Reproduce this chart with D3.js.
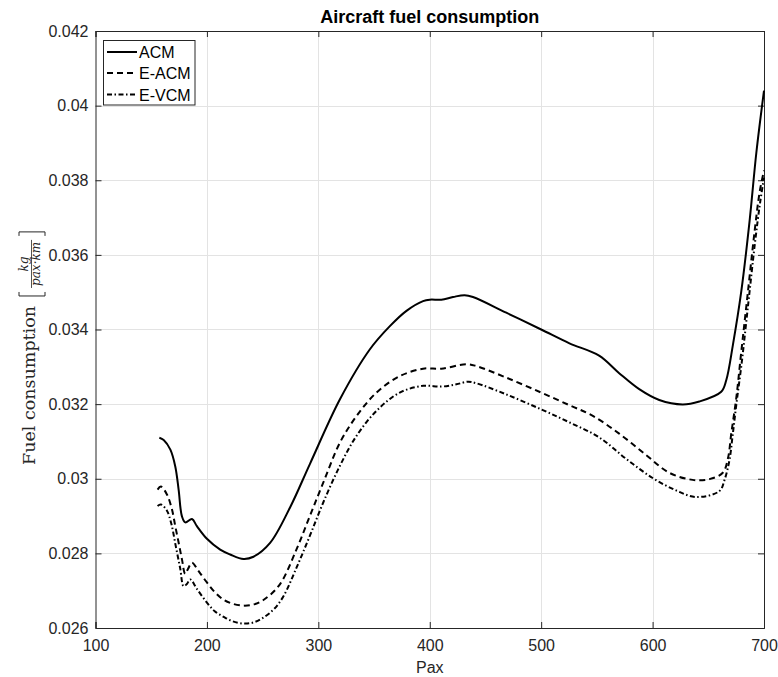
<!DOCTYPE html>
<html>
<head>
<meta charset="utf-8">
<script src="https://cdn.jsdelivr.net/npm/d3@7"></script>
<style>
  html, body { margin: 0; padding: 0; background: #fff; }
  svg { display: block; }
</style>
</head>
<body>
<svg id="chart" width="778" height="677"></svg>
<script>
// ---------------- data ----------------
const xTicks = [100, 200, 300, 400, 500, 600, 700];
const yTicks = [0.026, 0.028, 0.03, 0.032, 0.034, 0.036, 0.038, 0.04, 0.042];
const seriesNames = ["ACM", "E-ACM", "E-VCM"];

const acmPax = [157.3, 161.2, 167.2, 171.6, 174.6, 177.6, 180.6, 186.6, 191, 200, 211.9, 220.9, 232.8, 241.8, 256.7, 274.6, 292.5, 319.4, 346.3, 364.2, 379.1, 394, 400, 410.4, 420.9, 431.3, 438.8, 468.7, 500, 525.4, 552, 570, 588, 606, 627, 642, 661.6, 666.1, 672.1, 679.6, 687.1, 693.1, 700];
const acmFuel = [0.03110, 0.03104, 0.03078, 0.03033, 0.02971, 0.02899, 0.02883, 0.02892, 0.02873, 0.02839, 0.02810, 0.02797, 0.02785, 0.02791, 0.02828, 0.02923, 0.03040, 0.03213, 0.03347, 0.03409, 0.03450, 0.03476, 0.03480, 0.03480, 0.03487, 0.03492, 0.03487, 0.03445, 0.03400, 0.03363, 0.03330, 0.03283, 0.03240, 0.03211, 0.03199, 0.03207, 0.03233, 0.03264, 0.03359, 0.03502, 0.03692, 0.03873, 0.04040];

const eacmPax = [155.7, 158.7, 164.1, 168.6, 171.6, 174.6, 177.6, 180.5, 183, 186.6, 192.4, 200, 207.4, 214.9, 223, 232.8, 242, 250.7, 265, 280.6, 292.5, 304.5, 319.4, 334.3, 352.2, 373.1, 394, 410.4, 432.8, 441.8, 468.7, 500, 525.4, 546, 570, 594, 615, 636, 651, 663, 667.6, 670.6, 675.1, 679.6, 685.6, 691.6, 696.1, 700];
const eacmFuel = [0.02971, 0.02979, 0.02958, 0.02918, 0.02873, 0.02829, 0.02784, 0.02745, 0.02758, 0.02775, 0.02753, 0.02722, 0.02695, 0.02676, 0.02665, 0.02660, 0.02663, 0.02675, 0.02715, 0.02812, 0.02901, 0.02990, 0.03097, 0.03168, 0.03231, 0.03275, 0.03295, 0.03295, 0.03307, 0.03302, 0.03271, 0.03231, 0.03197, 0.03169, 0.03121, 0.03064, 0.03016, 0.02997, 0.02999, 0.03016, 0.03054, 0.03121, 0.03216, 0.03340, 0.03502, 0.03664, 0.03769, 0.03826];

const evcmPax = [155.7, 158.7, 164, 168, 172, 176, 179.1, 182, 185.1, 191, 200, 207, 215, 223, 232.8, 242, 250.7, 260, 268.7, 280.6, 292.5, 304.5, 319.4, 334.3, 352.2, 373.1, 394, 410.4, 423.9, 434.3, 441.8, 468.7, 500, 525.4, 552, 576, 600, 621, 639, 660, 664.6, 669, 672, 675.5, 680, 686, 692, 696.5, 700];
const evcmFuel = [0.02927, 0.02931, 0.02915, 0.02880, 0.02820, 0.02760, 0.02712, 0.02718, 0.02730, 0.02705, 0.02668, 0.02645, 0.02630, 0.02618, 0.02612, 0.02615, 0.02628, 0.02650, 0.02685, 0.02763, 0.02848, 0.02937, 0.03035, 0.03115, 0.03182, 0.03231, 0.03249, 0.03247, 0.03253, 0.03260, 0.03256, 0.03226, 0.03186, 0.03151, 0.03111, 0.03054, 0.03002, 0.02969, 0.02951, 0.02967, 0.02997, 0.03050, 0.03120, 0.03207, 0.03311, 0.03473, 0.03635, 0.03740, 0.03807];

// ---------------- layout ----------------
const svg = d3.select("#chart");
const pLeft = 95.5, pRight = 764, pTop = 31, pBottom = 628;
const axisColor = "#262626";
const gridColor = "#e3e3e3";
const sans = "'Liberation Sans', Arial, Helvetica, sans-serif";
const serif = "'DejaVu Serif', 'Liberation Serif', serif";

const x = d3.scaleLinear().domain([100, 700]).range([pLeft, pRight]);
const y = d3.scaleLinear().domain([0.026, 0.042]).range([pBottom, pTop]);

// grid
const grid = svg.append("g");
grid.selectAll(".gx").data(xTicks.slice(1, -1)).join("line")
  .attr("x1", d => Math.round(x(d)) + 0.5).attr("x2", d => Math.round(x(d)) + 0.5)
  .attr("y1", pTop).attr("y2", pBottom)
  .attr("stroke", gridColor).attr("stroke-width", 1);
grid.selectAll(".gy").data(yTicks.slice(1, -1)).join("line")
  .attr("x1", pLeft).attr("x2", pRight)
  .attr("y1", d => Math.round(y(d)) + 0.5).attr("y2", d => Math.round(y(d)) + 0.5)
  .attr("stroke", gridColor).attr("stroke-width", 1);

// axes (box with inward ticks)
const tickLen = 6;
const fmtY = d => String(+d.toFixed(3));
const axB = d3.axisBottom(x).tickValues(xTicks).tickSize(-tickLen).tickPadding(12).tickFormat(d3.format("d"));
const axT = d3.axisTop(x).tickValues(xTicks).tickSize(-tickLen).tickFormat("");
const axL = d3.axisLeft(y).tickValues(yTicks).tickSize(-tickLen).tickPadding(7).tickFormat(fmtY);
const axR = d3.axisRight(y).tickValues(yTicks).tickSize(-tickLen).tickFormat("");

function styleAxis(g) {
  g.select(".domain").attr("stroke", axisColor).attr("stroke-width", 1);
  g.selectAll(".tick line").attr("stroke", axisColor).attr("stroke-width", 1);
  g.selectAll(".tick text").attr("fill", axisColor).attr("font-family", sans).attr("font-size", 16);
}
svg.append("g").attr("transform", `translate(0,${pBottom})`).call(axB).call(styleAxis);
svg.append("g").attr("transform", `translate(0,${pTop})`).call(axT).call(styleAxis);
svg.append("g").attr("transform", `translate(${pLeft},0)`).call(axL).call(styleAxis);
svg.append("g").attr("transform", `translate(${pRight},0)`).call(axR).call(styleAxis);

// lines
const series = [
  { name: seriesNames[0], pax: acmPax, fuel: acmFuel, dash: null },
  { name: seriesNames[1], pax: eacmPax, fuel: eacmFuel, dash: "6,4" },
  { name: seriesNames[2], pax: evcmPax, fuel: evcmFuel, dash: "5,2.5,1.5,2.5" }
];
const line = d3.line().x(d => x(d[0])).y(d => y(d[1])).curve(d3.curveCatmullRom.alpha(0.5));
const plot = svg.append("g");
series.forEach(s => {
  const pts = s.pax.map((p, i) => [p, s.fuel[i]]);
  plot.append("path").datum(pts)
    .attr("d", line)
    .attr("fill", "none")
    .attr("stroke", "#000")
    .attr("stroke-width", 2)
    .attr("stroke-linejoin", "round")
    .attr("stroke-dasharray", s.dash);
});

// legend
const lg = svg.append("g");
lg.append("rect").attr("x", 103.5).attr("y", 40.5).attr("width", 91.5).attr("height", 64.5)
  .attr("fill", "#fff").attr("stroke", axisColor).attr("stroke-width", 1);
const legY = [52, 73, 94.5];
series.forEach((s, i) => {
  lg.append("line").attr("x1", 107).attr("x2", 137).attr("y1", legY[i]).attr("y2", legY[i])
    .attr("stroke", "#000").attr("stroke-width", 2).attr("stroke-dasharray", s.dash);
  lg.append("text").attr("x", 139).attr("y", legY[i] + 6).text(s.name)
    .attr("font-family", sans).attr("font-size", 16).attr("fill", "#000");
});

// title
svg.append("text").attr("x", (pLeft + pRight) / 2).attr("y", 23).attr("text-anchor", "middle")
  .attr("font-family", sans).attr("font-size", 18).attr("font-weight", "bold").attr("fill", "#000")
  .text("Aircraft fuel consumption");

// x label
svg.append("text").attr("x", (pLeft + pRight) / 2).attr("y", 673).attr("text-anchor", "middle")
  .attr("font-family", sans).attr("font-size", 16).attr("fill", axisColor).text("Pax");

// y label (LaTeX-like)
const yl = svg.append("g").attr("transform", "translate(35,465) rotate(-90)");
const t1 = yl.append("text").attr("x", 0).attr("y", 0)
  .attr("font-family", serif).attr("font-size", 17.5).attr("fill", axisColor)
  .text("Fuel consumption");
const w = t1.node().getComputedTextLength();
const L = w + 10;
const num = yl.append("text").attr("y", -7).attr("text-anchor", "middle")
  .attr("font-family", serif).attr("font-style", "italic").attr("font-size", 12).attr("fill", axisColor)
  .text("kg");
const den = yl.append("text").attr("y", 5).attr("text-anchor", "middle")
  .attr("font-family", serif).attr("font-style", "italic").attr("font-size", 12).attr("fill", axisColor)
  .text("pax\u00b7km");
const fw = Math.max(num.node().getComputedTextLength(), den.node().getComputedTextLength());
const R = L + fw + 20;
const mid = (L + R) / 2;
num.attr("x", mid); den.attr("x", mid);
yl.append("line").attr("x1", mid - fw / 2 - 2).attr("x2", mid + fw / 2 + 2).attr("y1", -3.5).attr("y2", -3.5)
  .attr("stroke", axisColor).attr("stroke-width", 0.8);
const bTop = -16, bBot = 10;
yl.append("path").attr("d", `M${L + 4},${bTop} H${L} V${bBot} H${L + 4}`)
  .attr("fill", "none").attr("stroke", axisColor).attr("stroke-width", 1);
yl.append("path").attr("d", `M${R - 4},${bTop} H${R} V${bBot} H${R - 4}`)
  .attr("fill", "none").attr("stroke", axisColor).attr("stroke-width", 1);
</script>
</body>
</html>
